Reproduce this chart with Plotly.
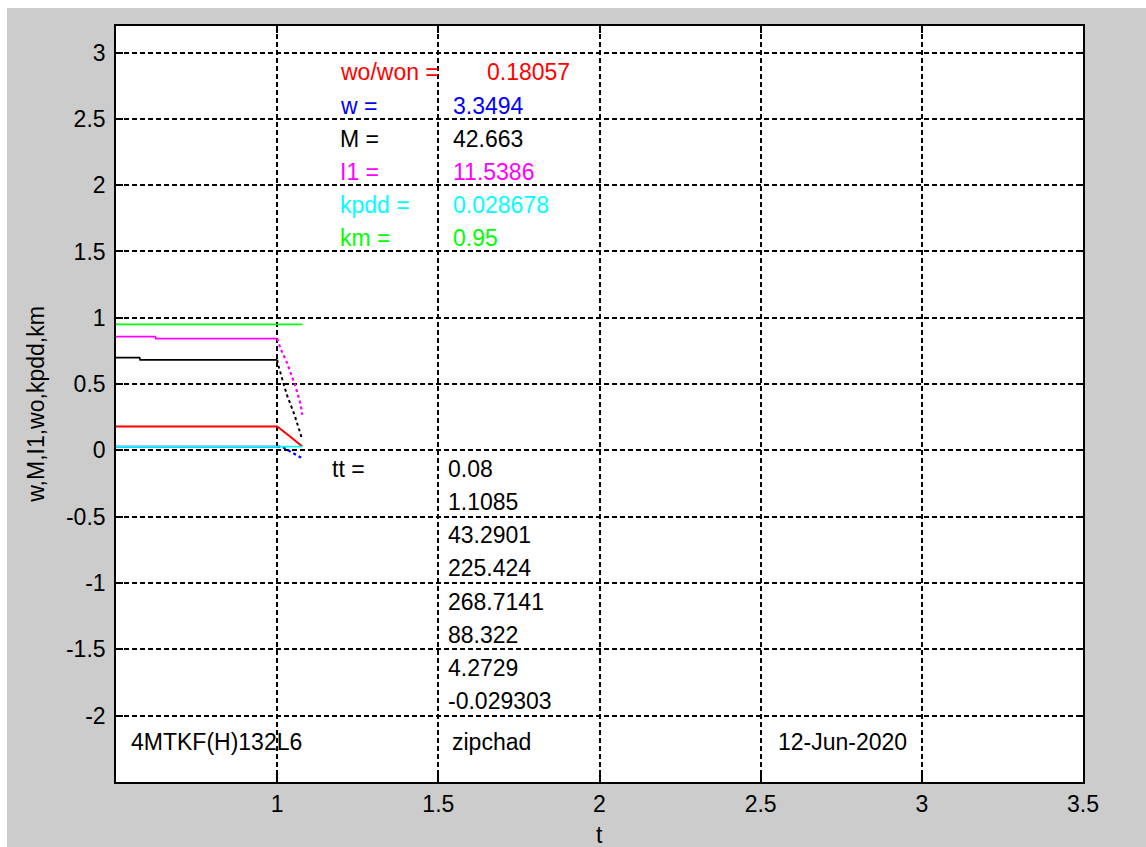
import plotly.graph_objects as go

# ---- series data (time t vs normalised quantities) ----
t_km = [0.5, 1.078]
km = [0.95, 0.95]

t_kpdd = [0.5, 1.078]
kpdd = [0.0287, 0.0287]

t_wo = [0.5, 1.0, 1.04, 1.078]
wo = [0.18, 0.18, 0.105, 0.03]

t_M_run = [0.5, 0.573, 0.575, 1.0]
M_run = [0.70, 0.70, 0.683, 0.683]
t_M_fall = [1.0, 1.003, 1.03, 1.055, 1.078]
M_fall = [0.683, 0.645, 0.42, 0.26, 0.08]

t_I1_run = [0.5, 0.622, 0.624, 1.0]
I1_run = [0.858, 0.858, 0.843, 0.843]
t_I1_fall = [1.0, 1.01, 1.031, 1.057, 1.072, 1.078]
I1_fall = [0.843, 0.771, 0.658, 0.481, 0.356, 0.268]

t_w_run = [0.5, 1.0]
w_run = [0.029, 0.029]
t_w_fall = [1.0, 1.015, 1.041, 1.062, 1.078]
w_fall = [0.029, 0.029, -0.009, -0.034, -0.059]

# ---- printed parameters ----
param_labels = ["wo/won =", "w =", "M =", "I1 =", "kpdd =", "km ="]
param_values = ["0.18057", "3.3494", "42.663", "11.5386", "0.028678", "0.95"]
param_colors = ["#ff0000", "#0000ff", "#000000", "#ff00ff", "#00ffff", "#00ff00"]
param_rows = [2.85, 2.60, 2.35, 2.10, 1.85, 1.60]
param_value_x = [1.645, 1.54, 1.54, 1.54, 1.54, 1.54]

tt_label = "tt ="
tt_values = ["0.08", "1.1085", "43.2901", "225.424", "268.7141", "88.322",
             "4.2729", "-0.029303"]
tt_rows = [-0.14, -0.39, -0.64, -0.89, -1.14, -1.39, -1.64, -1.89]

footer_texts = ["4MTKF(H)132L6", "zipchad", "12-Jun-2020"]
footer_x = [0.54, 1.535, 2.548]
footer_y = -2.2

# ---- axis ticks ----
x_ticks = [1, 1.5, 2, 2.5, 3, 3.5]
x_ticktext = ["1", "1.5", "2", "2.5", "3", "3.5"]
y_ticks = [-2, -1.5, -1, -0.5, 0, 0.5, 1, 1.5, 2, 2.5, 3]
y_ticktext = ["-2", "-1.5", "-1", "-0.5", "0", "0.5", "1", "1.5", "2", "2.5", "3"]

FONT = "Arial, Liberation Sans, sans-serif"
FS = 23
LW = 1.8

fig = go.Figure()

def line(x, y, color, dash="solid", width=LW):
    fig.add_trace(go.Scatter(x=x, y=y, mode="lines",
                             line=dict(color=color, width=width, dash=dash),
                             showlegend=False, hoverinfo="skip"))

line(t_w_run, w_run, "#0000ff")
line(t_w_fall, w_fall, "#0000ff", dash="dot", width=2.2)
line(t_wo, wo, "#ff0000", width=2)
line(t_M_run, M_run, "#000000")
line(t_M_fall, M_fall, "#000000", dash="dot", width=2)
line(t_I1_run, I1_run, "#ff00ff")
line(t_I1_fall, I1_fall, "#ff00ff", dash="dot", width=2.2)
line(t_kpdd, kpdd, "#00ffff")
line(t_km, km, "#00ff00")

ann = []
def txt(x, y, s, color="#000000"):
    ann.append(dict(x=x, y=y, xref="x", yref="y", text=s, showarrow=False,
                    xanchor="left", yanchor="middle",
                    font=dict(family=FONT, size=FS, color=color)))

for lab, val, col, yy, vx in zip(param_labels, param_values, param_colors,
                                 param_rows, param_value_x):
    txt(1.19, yy, lab, col)
    txt(vx, yy, val, col)

txt(1.165, tt_rows[0], tt_label)
for v, yy in zip(tt_values, tt_rows):
    txt(1.525, yy, v)

for s, xx in zip(footer_texts, footer_x):
    txt(xx, footer_y, s)

# axis titles
ann.append(dict(x=-0.083, y=0.5, xref="paper", yref="paper",
                text="w,M,I1,wo,kpdd,km", textangle=-90, showarrow=False,
                xanchor="center", yanchor="middle",
                font=dict(family=FONT, size=FS, color="#000000")))
ann.append(dict(x=0.5, y=-0.07, xref="paper", yref="paper", text="t",
                showarrow=False, xanchor="center", yanchor="middle",
                font=dict(family=FONT, size=FS, color="#000000")))

# white frame strips around the grey figure area
shapes = [
    dict(type="rect", xref="paper", yref="paper", x0=-0.125, x1=-0.1127,
         y0=-0.1, y1=1.04, fillcolor="white", line_width=0, layer="above"),
    dict(type="rect", xref="paper", yref="paper", x0=-0.125, x1=1.1,
         y0=1.0238, y1=1.04, fillcolor="white", line_width=0, layer="above"),
]

axis_common = dict(
    showgrid=True, gridcolor="#000000", gridwidth=1.6, griddash="5px,3px",
    zeroline=False, showline=True, linecolor="#000000", linewidth=1.6,
    mirror="allticks", ticks="inside", ticklen=7, tickwidth=1.6,
    tickcolor="#000000",
    tickfont=dict(family=FONT, size=FS, color="#000000"),
)

fig.update_layout(
    width=1146, height=847,
    margin=dict(l=116, r=63, t=26, b=65),
    paper_bgcolor="#cccccc", plot_bgcolor="#ffffff",
    annotations=ann, shapes=shapes,
    xaxis=dict(range=[0.5, 3.5], tickmode="array", tickvals=x_ticks,
               ticktext=x_ticktext, ticklabelstandoff=1, **axis_common),
    yaxis=dict(range=[-2.5, 3.2], tickmode="array", tickvals=y_ticks,
               ticktext=y_ticktext, ticklabelstandoff=4, **axis_common),
)

fig.write_html("out.html")
